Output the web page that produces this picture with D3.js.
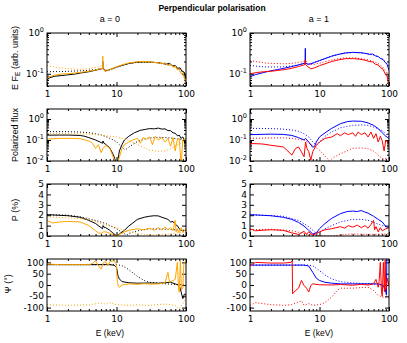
<!DOCTYPE html>
<html>
<head>
<meta charset="utf-8">
<script src="https://cdn.jsdelivr.net/npm/d3@7"></script>
<style>
body { margin: 0; background: #fff; }
text { font-family: "Liberation Sans", Arial, sans-serif; }
text.tick-label { font-family: "DejaVu Sans", sans-serif; }
</style>
</head>
<body>
<div id="chart"></div>
<script>
// ---- data: [E (keV), value] ----
var specA0Black = [[1,0.07],[1.1,0.08],[1.3,0.087],[1.6,0.09],[2,0.094],[2.5,0.098],[3,0.104],[4,0.112],[5,0.122],[5.8,0.13],[6.3,0.135],[6.35,0.2],[6.4,0.135],[6.8,0.118],[7.5,0.12],[8.5,0.13],[10,0.145],[12,0.16],[15,0.178],[19,0.19],[24,0.195],[30,0.193],[38,0.188],[45,0.18],[52,0.172],[58,0.18],[64,0.155],[70,0.16],[76,0.135],[82,0.14],[88,0.115],[94,0.11],[100,0.075]];
var specA0BlackDot = [[1,0.112],[1.5,0.113],[2,0.115],[3,0.118],[4,0.122],[5,0.127],[6,0.132],[6.4,0.135],[7,0.12],[8,0.126],[10,0.145],[13,0.168],[17,0.185],[22,0.193],[30,0.193],[40,0.185],[50,0.175],[60,0.162],[70,0.148],[80,0.13],[90,0.11],[100,0.09]];
var specA0Orange = [[1,0.075],[1.1,0.085],[1.3,0.093],[1.6,0.098],[2,0.1],[2.5,0.104],[3,0.108],[4,0.115],[5,0.124],[5.8,0.132],[6.3,0.136],[6.35,0.27],[6.4,0.136],[6.8,0.115],[7.5,0.12],[8.5,0.13],[10,0.148],[12,0.165],[15,0.183],[19,0.195],[24,0.2],[30,0.196],[35,0.19],[40,0.185],[45,0.175],[50,0.185],[55,0.16],[60,0.17],[65,0.145],[70,0.155],[75,0.125],[80,0.13],[85,0.1],[90,0.105],[95,0.075],[100,0.06]];
var specA0OrangeDot = [[1,0.16],[1.2,0.15],[1.5,0.14],[2,0.134],[2.5,0.13],[3,0.13],[4,0.134],[5,0.143],[6,0.155],[6.4,0.158],[7,0.125],[8,0.13],[10,0.148],[13,0.172],[17,0.19],[22,0.198],[30,0.195],[40,0.185],[50,0.172],[60,0.158],[70,0.14],[80,0.12],[90,0.095],[100,0.07]];

var specA1Blue = [[1,0.085],[1.2,0.095],[1.5,0.105],[2,0.118],[2.5,0.127],[3,0.135],[4,0.15],[5,0.165],[5.8,0.177],[6.2,0.183],[6.25,0.42],[6.3,0.183],[6.8,0.17],[7.5,0.175],[8.5,0.19],[10,0.21],[12,0.235],[15,0.27],[19,0.3],[24,0.325],[30,0.335],[38,0.33],[45,0.318],[52,0.3],[58,0.305],[64,0.275],[70,0.265],[76,0.235],[82,0.225],[88,0.19],[94,0.17],[100,0.12]];
var specA1BlueDot = [[1,0.16],[1.3,0.152],[1.6,0.148],[2,0.146],[3,0.148],[4,0.155],[5,0.165],[6,0.178],[6.3,0.182],[7,0.172],[8,0.182],[10,0.212],[13,0.25],[17,0.29],[22,0.318],[30,0.33],[40,0.325],[50,0.308],[60,0.285],[70,0.26],[80,0.23],[90,0.19],[100,0.15]];
var specA1Red = [[1,0.1],[1.3,0.108],[1.6,0.112],[2,0.115],[2.5,0.12],[3,0.125],[4,0.136],[5,0.15],[5.8,0.162],[6.2,0.168],[6.25,0.22],[6.3,0.168],[6.8,0.148],[7.5,0.132],[8.5,0.14],[10,0.158],[12,0.175],[15,0.2],[19,0.22],[24,0.235],[30,0.235],[38,0.228],[45,0.215],[52,0.2],[58,0.195],[64,0.17],[70,0.165],[76,0.14],[82,0.13],[88,0.1],[94,0.085],[100,0.05]];
var specA1RedDot = [[1,0.21],[1.3,0.195],[1.6,0.185],[2,0.18],[3,0.175],[4,0.18],[5,0.19],[6,0.2],[6.3,0.21],[7,0.172],[8,0.168],[10,0.182],[13,0.205],[17,0.228],[22,0.243],[30,0.245],[40,0.235],[50,0.22],[60,0.2],[70,0.178],[80,0.15],[90,0.12],[100,0.085]];

var polA0Black = [[1,0.17],[1.5,0.172],[2,0.172],[3,0.165],[3.5,0.15],[4,0.13],[5,0.1],[5.8,0.08],[6.3,0.07],[6.4,0.09],[6.6,0.07],[7,0.062],[8,0.042],[9,0.02],[9.6,0.011],[10,0.006],[10.5,0.012],[11,0.03],[12,0.06],[13,0.1],[15,0.15],[18,0.22],[22,0.29],[26,0.32],[30,0.35],[35,0.34],[40,0.37],[45,0.33],[50,0.34],[55,0.28],[60,0.28],[65,0.22],[70,0.21],[75,0.16],[80,0.17],[85,0.12],[90,0.14],[95,0.1],[100,0.12]];
var polA0BlackDot = [[1,0.25],[2,0.25],[3,0.24],[4,0.225],[5,0.2],[6,0.175],[7,0.145],[8,0.12],[9,0.1],[10,0.082],[11,0.06],[12,0.045],[13,0.036],[14,0.038],[15,0.045],[17,0.06],[20,0.085],[25,0.11],[30,0.125],[40,0.135],[50,0.13],[60,0.125],[80,0.11],[100,0.1]];
var polA0Orange = [[1,0.11],[1.5,0.12],[2,0.12],[3,0.115],[4,0.09],[4.5,0.07],[5,0.04],[5.5,0.06],[6,0.025],[6.4,0.04],[7,0.055],[8,0.04],[9,0.015],[10,0.006],[11,0.015],[12,0.04],[13,0.06],[15,0.08],[17,0.1],[20,0.12],[22,0.07],[24,0.13],[27,0.11],[30,0.14],[33,0.06],[36,0.15],[40,0.1],[45,0.13],[50,0.08],[55,0.12],[60,0.05],[65,0.13],[70,0.03],[75,0.11],[80,0.12],[85,0.006],[90,0.1],[100,0.11]];
var polA0OrangeDot = [[1,0.2],[2,0.2],[3,0.2],[4,0.19],[6,0.17],[8,0.15],[10,0.14],[13,0.11],[15,0.1],[20,0.06],[30,0.033],[40,0.029],[50,0.03],[60,0.038],[80,0.065],[100,0.1]];

var polA1Blue = [[1,0.18],[2,0.19],[3,0.185],[4,0.165],[5,0.13],[6,0.1],[6.3,0.12],[6.6,0.1],[7,0.08],[8,0.045],[8.5,0.05],[9,0.08],[10,0.14],[12,0.22],[15,0.36],[20,0.6],[25,0.75],[30,0.8],[40,0.78],[50,0.65],[60,0.5],[70,0.35],[80,0.22],[90,0.15],[100,0.12]];
var polA1BlueDot = [[1,0.36],[2,0.35],[3,0.33],[4,0.3],[5,0.26],[6,0.2],[7,0.14],[8,0.082],[9,0.056],[10,0.08],[12,0.15],[15,0.24],[20,0.38],[30,0.5],[40,0.52],[50,0.5],[60,0.42],[80,0.28],[100,0.14]];
var polA1Red = [[1,0.068],[1.5,0.065],[2,0.056],[3,0.047],[3.5,0.03],[4,0.019],[4.5,0.039],[5,0.047],[5.5,0.027],[6,0.016],[6.3,0.08],[6.6,0.04],[7,0.028],[7.5,0.011],[8,0.028],[9,0.056],[10,0.08],[12,0.12],[15,0.14],[18,0.2],[20,0.16],[23,0.22],[26,0.18],[30,0.22],[33,0.15],[36,0.24],[40,0.18],[45,0.22],[50,0.14],[55,0.24],[60,0.12],[65,0.2],[70,0.08],[75,0.15],[80,0.09],[85,0.03],[90,0.1],[100,0.06]];
var polA1RedDot = [[1,0.12],[2,0.125],[3,0.127],[4,0.12],[6,0.1],[8,0.056],[10,0.033],[12,0.017],[14,0.01],[16,0.015],[20,0.022],[30,0.04],[40,0.042],[50,0.038],[60,0.03],[80,0.013],[100,0.013]];

var degA0Black = [[1,2.05],[2,1.95],[3,1.8],[4,1.5],[5,1.2],[6,0.8],[6.3,0.7],[6.4,1.0],[6.6,0.85],[7,0.8],[8,0.55],[9,0.25],[10,0.02],[11,0.2],[13,0.55],[15,0.95],[20,1.6],[25,1.8],[30,1.9],[35,1.95],[40,1.93],[45,1.8],[50,1.7],[55,1.6],[60,1.35],[65,1.4],[70,1.1],[75,1.0],[80,0.7],[90,0.45],[100,0.6]];
var degA0BlackDot = [[1,2.05],[2,2.0],[3,1.85],[5,1.5],[7,1.2],[10,0.7],[12,0.35],[14,0.08],[16,0.3],[20,0.5],[30,0.7],[50,0.65],[100,0.55]];
var degA0Orange = [[1,1.5],[1.2,1.25],[1.5,1.35],[2,1.4],[3,1.35],[4,1.0],[5,0.5],[5.5,0.3],[6,0.25],[6.5,0.4],[7,0.4],[8,0.25],[9,0.1],[10,0.0],[11,0.15],[13,0.4],[15,0.55],[20,0.7],[25,0.6],[30,0.75],[35,0.55],[40,0.8],[45,0.6],[50,0.85],[55,0.6],[60,0.8],[65,0.5],[70,1.5],[72,0.4],[75,0.7],[80,0.3],[85,0.8],[90,0.35],[100,0.7]];
var degA0OrangeDot = [[1,1.85],[2,1.75],[4,1.6],[6,1.2],[8,0.95],[10,0.8],[13,0.55],[15,0.4],[20,0.25],[30,0.1],[50,0.15],[100,0.4]];

var degA1Blue = [[1,2.05],[2,1.95],[3,1.8],[4,1.6],[5,1.3],[6,0.95],[7,0.55],[8,0.2],[9,0.3],[10,0.7],[12,1.2],[15,1.7],[20,2.15],[25,2.35],[30,2.4],[35,2.35],[40,2.45],[45,2.3],[50,2.2],[60,1.9],[70,1.6],[80,1.35],[90,0.9],[100,0.8]];
var degA1BlueDot = [[1,2.05],[3,1.9],[5,1.5],[7,0.9],[9,0.25],[10,0.4],[12,0.7],[15,1.0],[20,1.35],[30,1.6],[40,1.6],[50,1.5],[80,1.0],[100,0.8]];
var degA1Red = [[1,0.7],[1.2,0.5],[1.5,0.55],[2,0.6],[3,0.55],[4,0.3],[5,0.15],[6,0.45],[6.5,0.15],[7,0.4],[8,0.06],[9,0.25],[10,0.4],[12,0.6],[15,0.7],[20,0.9],[23,0.75],[26,1.0],[30,0.85],[35,1.05],[40,0.8],[45,1.0],[50,0.75],[55,1.1],[60,1.5],[62,0.6],[65,0.9],[70,0.4],[75,0.8],[80,0.5],[90,0.7],[100,0.8]];
var degA1RedDot = [[1,0.6],[2,0.65],[4,0.5],[6,0.25],[8,0.1],[10,0.05],[14,0.0],[20,0.1],[30,0.2],[50,0.15],[100,0.2]];

var angA0Black = [[1,90],[2,90],[4,90],[8,90],[9,88],[9.5,85],[10,78],[10.5,40],[11,27],[12,15],[15,10],[20,8],[30,9],[40,8],[50,10],[60,12],[70,5],[80,-2],[85,-30],[90,-60],[95,-40],[100,-45]];
var angA0BlackDot = [[1,90],[5,90],[10,90],[12,86],[15,68],[18,49],[20,38],[25,20],[30,12],[50,5],[100,0]];
var angA0Orange = [[1,93],[1.5,90],[2,90],[3,90],[4,90],[4.5,95],[5,107],[5.5,85],[6,70],[6.5,100],[7,103],[7.5,85],[8,103],[9,107],[9.8,100],[10,70],[10.3,12],[10.7,-8],[11,-10],[12,0],[15,5],[20,3],[25,6],[30,4],[40,5],[50,9],[55,56],[58,12],[65,20],[70,25],[75,100],[78,-10],[80,-32],[83,110],[86,-20],[90,-15],[93,90],[96,100],[100,100]];
var angA0OrangeDot = [[1,-87],[2,-90],[4,-88],[5,-83],[6,-80],[7,-85],[8,-78],[10,-87],[15,-90],[20,-88],[30,-90],[50,-84],[70,-90],[80,-105],[90,-83],[100,-53]];

var angA1Blue = [[1,88],[3,88],[6,88],[7,84],[8,56],[9,30],[10,20],[12,12],[15,8],[20,5],[30,5],[50,5],[70,5],[80,0],[88,-17],[92,-45],[93,110],[100,110]];
var angA1BlueDot = [[1,88],[4,88],[7,88],[8,85],[10,63],[12,44],[15,27],[20,15],[30,9],[50,6],[80,0],[100,-2]];
var angA1Red = [[1,85],[1.2,100],[2,97],[3,97],[3.9,100],[4.05,107],[4.1,-39],[4.5,-25],[5,-14],[5.5,20],[6,-2],[6.5,-14],[7,-31],[7.5,-2],[8,5],[10,1],[15,0],[20,2],[30,-1],[40,3],[50,0],[60,5],[65,25],[70,-10],[72,15],[75,100],[78,-30],[80,-50],[83,100],[86,-30],[88,110],[90,-20],[95,30],[100,-5]];
var angA1RedDot = [[1,-90],[1.2,-78],[1.5,-82],[2,-87],[3,-90],[4,-87],[5,-75],[5.5,-70],[6,-90],[7,-82],[8,-90],[10,-87],[12,-78],[15,-53],[18,-24],[20,-14],[30,-14],[50,-10],[60,-24],[70,-46],[80,-53],[100,-58]];

var energyTicks = [1, 10, 100];
var columnTitles = ["a = 0", "a = 1"];
var colours = { black: "#000000", orange: "#ffa500", blue: "#0000ff", red: "#ff0000" };

// ---- layout ----
var svgWidth = 407, svgHeight = 343;
var colX = [[47, 186], [250, 389]];
var rowY = [[33, 86], [109, 161], [184, 236], [259, 311]];
var titleX = [110, 319];

var rows = [
  { log: true, domain: [0.05, 1], ticks: [0.1, 1], label: "spec" },
  { log: true, domain: [0.01, 3], ticks: [0.01, 0.1, 1], label: "Polarized flux" },
  { log: false, domain: [0, 5], ticks: [0, 1, 2, 3, 4, 5], label: "P (%)" },
  { log: false, domain: [-115, 115], ticks: [-100, -50, 0, 50, 100], label: "\u03a8 (\u00b0)" }
];

var series = [
  [[[specA0Black, colours.black, false], [specA0BlackDot, colours.black, true], [specA0Orange, colours.orange, false], [specA0OrangeDot, colours.orange, true]],
   [[specA1Blue, colours.blue, false], [specA1BlueDot, colours.blue, true], [specA1Red, colours.red, false], [specA1RedDot, colours.red, true]]],
  [[[polA0Black, colours.black, false], [polA0BlackDot, colours.black, true], [polA0Orange, colours.orange, false], [polA0OrangeDot, colours.orange, true]],
   [[polA1Blue, colours.blue, false], [polA1BlueDot, colours.blue, true], [polA1Red, colours.red, false], [polA1RedDot, colours.red, true]]],
  [[[degA0Black, colours.black, false], [degA0BlackDot, colours.black, true], [degA0Orange, colours.orange, false], [degA0OrangeDot, colours.orange, true]],
   [[degA1Blue, colours.blue, false], [degA1BlueDot, colours.blue, true], [degA1Red, colours.red, false], [degA1RedDot, colours.red, true]]],
  [[[angA0Black, colours.black, false], [angA0BlackDot, colours.black, true], [angA0Orange, colours.orange, false], [angA0OrangeDot, colours.orange, true]],
   [[angA1Blue, colours.blue, false], [angA1BlueDot, colours.blue, true], [angA1Red, colours.red, false], [angA1RedDot, colours.red, true]]]
];

var svg = d3.select("#chart").append("svg")
  .attr("width", svgWidth)
  .attr("height", svgHeight);

// minor ticks for log axes
function logMinors(lo, hi) {
  var out = [];
  for (var p = Math.floor(Math.log10(lo)); p < Math.ceil(Math.log10(hi)); p++) {
    for (var m = 2; m <= 9; m++) {
      var v = m * Math.pow(10, p);
      if (v >= lo * 0.999 && v <= hi * 1.001) out.push(v);
    }
  }
  return out;
}

function styleAxis(g) {
  g.select(".domain").remove();
  g.attr("font-size", 9).attr("font-family", null);
  g.selectAll("line").attr("stroke", "#000");
  g.selectAll("text").attr("fill", "#000").classed("tick-label", true);
}

rows.forEach(function(rc, ri) {
  [0, 1].forEach(function(ci) {
    var x0 = colX[ci][0], x1 = colX[ci][1];
    var y0 = rowY[ri][0], y1 = rowY[ri][1];
    var x = d3.scaleLog().domain([1, 100]).range([x0, x1]);
    var y = (rc.log ? d3.scaleLog() : d3.scaleLinear()).domain(rc.domain).range([y1, y0]);

    var clipId = "clip" + ri + ci;
    svg.append("clipPath").attr("id", clipId)
      .append("rect").attr("x", x0).attr("y", y0).attr("width", x1 - x0).attr("height", y1 - y0);

    // x axes (bottom with labels, top mirrored)
    var xb = svg.append("g").attr("transform", `translate(0,${y1})`)
      .call(d3.axisBottom(x).tickValues(energyTicks).tickSize(-4).tickPadding(4.5).tickFormat(d3.format("d")));
    styleAxis(xb);
    var xbm = svg.append("g").attr("transform", `translate(0,${y1})`)
      .call(d3.axisBottom(x).tickValues(logMinors(1, 100)).tickSize(-2).tickFormat(""));
    styleAxis(xbm);
    var xt = svg.append("g").attr("transform", `translate(0,${y0})`)
      .call(d3.axisTop(x).tickValues(energyTicks).tickSize(-4).tickFormat(""));
    styleAxis(xt);
    var xtm = svg.append("g").attr("transform", `translate(0,${y0})`)
      .call(d3.axisTop(x).tickValues(logMinors(1, 100)).tickSize(-2).tickFormat(""));
    styleAxis(xtm);

    // y axes
    var yl = svg.append("g").attr("transform", `translate(${x0},0)`)
      .call(d3.axisLeft(y).tickValues(rc.ticks).tickSize(-4).tickFormat(""));
    styleAxis(yl);
    var yr = svg.append("g").attr("transform", `translate(${x1},0)`)
      .call(d3.axisRight(y).tickValues(rc.ticks).tickSize(-4).tickFormat(""));
    styleAxis(yr);
    if (rc.log) {
      var mins = logMinors(rc.domain[0], rc.domain[1]);
      styleAxis(svg.append("g").attr("transform", `translate(${x0},0)`)
        .call(d3.axisLeft(y).tickValues(mins).tickSize(-2).tickFormat("")));
      styleAxis(svg.append("g").attr("transform", `translate(${x1},0)`)
        .call(d3.axisRight(y).tickValues(mins).tickSize(-2).tickFormat("")));
    }

    // y tick labels
    rc.ticks.forEach(function(v) {
      var t = svg.append("text")
        .attr("class", "tick-label")
        .attr("x", x0 - 3)
        .attr("y", y(v))
        .attr("dy", "0.35em")
        .attr("text-anchor", "end")
        .attr("font-size", 9)
        .attr("fill", "#000");
      if (rc.log) {
        t.text("10");
        t.append("tspan").attr("dy", -4).attr("font-size", 6.5).text(Math.round(Math.log10(v)));
      } else {
        t.text(v);
      }
    });

    // lines
    var line = d3.line()
      .x(d => x(d[0]))
      .y(d => y(d[1]));
    var plot = svg.append("g").attr("clip-path", `url(#${clipId})`);
    series[ri][ci].forEach(function(s) {
      plot.append("path")
        .datum(s[0])
        .attr("fill", "none")
        .attr("stroke", s[1])
        .attr("stroke-width", 1)
        .attr("stroke-dasharray", s[2] ? "1,2" : null)
        .attr("stroke-linejoin", "round")
        .attr("d", line);
    });

    // frame
    svg.append("rect")
      .attr("x", x0).attr("y", y0)
      .attr("width", x1 - x0).attr("height", y1 - y0)
      .attr("fill", "none").attr("stroke", "#000").attr("stroke-width", 1);
  });

  // row label (left column only)
  var cy = (rowY[ri][0] + rowY[ri][1]) / 2;
  var lx = ri === 3 ? 11 : 18;
  var lab = svg.append("text")
    .attr("transform", `translate(${lx},${ri === 0 ? 58 : (ri === 3 ? 284 : cy)}) rotate(-90)`)
    .attr("text-anchor", "middle")
    .attr("font-size", 9)
    .attr("fill", "#000");
  if (rc.label === "spec") {
    lab.text("E F");
    lab.append("tspan").attr("dy", 2).attr("font-size", 6.5).text("E");
    lab.append("tspan").attr("dy", -2).text(" (arb. units)");
  } else {
    lab.text(rc.label);
  }
});

// column titles and x labels
columnTitles.forEach(function(t, ci) {
  svg.append("text").attr("x", titleX[ci]).attr("y", 22)
    .attr("text-anchor", "middle").attr("font-size", 9).text(t);
  svg.append("text").attr("x", titleX[ci]).attr("y", 336)
    .attr("text-anchor", "middle").attr("font-size", 8.5).text("E (keV)");
});

svg.append("text")
  .attr("x", 212).attr("y", 11)
  .attr("text-anchor", "middle")
  .attr("font-size", 8.5)
  .attr("font-weight", "bold")
  .text("Perpendicular polarisation");
</script>
</body>
</html>
